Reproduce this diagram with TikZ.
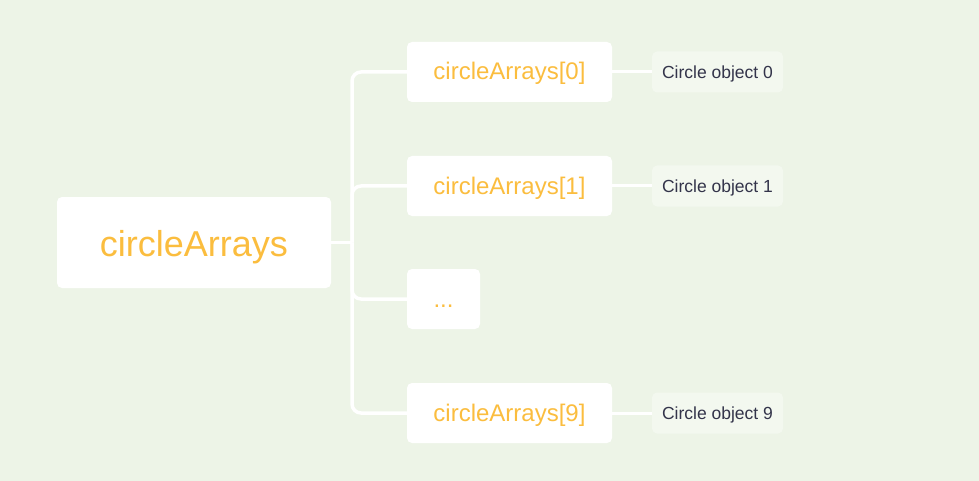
\documentclass[tikz,border=0pt]{standalone}
\usepackage{fontspec}
\setmainfont{Liberation Sans}
\definecolor{bgc}{HTML}{EDF4E7}
\definecolor{leafc}{HTML}{F3F8EF}
\definecolor{orangec}{HTML}{FBBD3E}
\definecolor{darkc}{HTML}{33344A}
\tikzset{
  box/.style={fill=white, rounded corners=5pt, inner sep=0pt, text=orangec, font=\fontsize{24}{28}\selectfont, text height=16pt, text depth=0pt},
  rootbox/.style={box, minimum width=274pt, minimum height=91pt, font=\fontsize{36}{40}\selectfont, text height=27pt},
  childbox/.style={box, minimum width=205pt, minimum height=60pt},
  leafbox/.style={fill=leafc, rounded corners=5pt, inner sep=0pt, minimum width=131pt, minimum height=41pt, text=darkc, font=\fontsize{17.5}{20}\selectfont, text height=13.6pt, text depth=0pt},
  conn/.style={draw=white, line width=3.5pt, rounded corners=9pt},
  leafconn/.style={draw=white, line width=3pt}
}
\begin{document}
\begin{tikzpicture}[x=1pt,y=1pt]
\useasboundingbox (0,0) rectangle (979,-481);
\fill[bgc] (0,0) rectangle (979,-481);
\node[rootbox] (root) at (194,-242.5) {circleArrays};
\node[childbox] (c0) at (509.5,-72) {circleArrays[0]};
\node[childbox] (c1) at (509.5,-186) {circleArrays[1]};
\node[childbox, minimum width=73pt] (dots) at (443.5,-299) {...};
\node[childbox] (c9) at (509.5,-413) {circleArrays[9]};
\node[leafbox] (l0) at (717.5,-72) {Circle object 0};
\node[leafbox] (l1) at (717.5,-186) {Circle object 1};
\node[leafbox] (l9) at (717.5,-413) {Circle object 9};
\coordinate (j) at (352,-242.5);
\draw[conn] (root.east) -- (j);
\draw[conn] (c0.west) -| (j);
\draw[conn] (c1.west) -| (j);
\draw[conn] (dots.west) -| (j);
\draw[conn] (c9.west) -| (j);
\draw[leafconn] (c0.east) -- (l0.west);
\draw[leafconn] (c1.east) -- (l1.west);
\draw[leafconn] (c9.east) -- (l9.west);
\end{tikzpicture}
\end{document}
